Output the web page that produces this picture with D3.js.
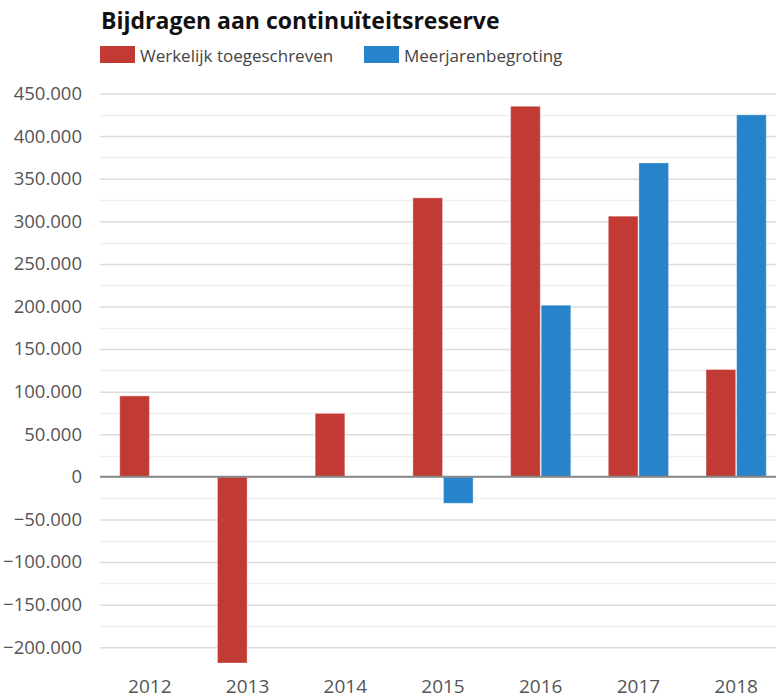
<!DOCTYPE html>
<html>
<head>
<meta charset="utf-8">
<title>Bijdragen aan continuïteitsreserve</title>
<script src="https://d3js.org/d3.v7.min.js"></script>
<style>
  body { margin: 0; background: #fff; font-family: "Open Sans", sans-serif; overflow: hidden; }
</style>
</head>
<body>
<div id="chart"></div>
<script>
// data
var years = ["2012", "2013", "2014", "2015", "2016", "2017", "2018"];
var seriesNames = ["Werkelijk toegeschreven", "Meerjarenbegroting"];
var werkelijk = [95000, -218500, 74500, 327500, 435000, 306000, 126000];
var begroting = [0, 0, 0, -31000, 201500, 368500, 425000];
var yTicks = [-200000, -150000, -100000, -50000, 0, 50000, 100000, 150000, 200000, 250000, 300000, 350000, 400000, 450000];
var colors = ["#c13a33", "#2884ca"];

var width = 776, height = 698;
var plotLeft = 101, plotRight = 785;

var svg = d3.select("#chart").append("svg")
    .attr("width", width)
    .attr("height", height);

// title
svg.append("text")
    .attr("x", 101).attr("y", 28.5)
    .style("font-size", "23px").style("font-weight", "bold")
    .style("fill", "#111")
    .text("Bijdragen aan continuïteitsreserve");

// legend
var legendX = [100, 364];
seriesNames.forEach(function(name, i) {
    svg.append("rect")
        .attr("x", legendX[i]).attr("y", 46)
        .attr("width", 35).attr("height", 17)
        .attr("fill", colors[i]);
    svg.append("text")
        .attr("x", legendX[i] + 40).attr("y", 61.5)
        .style("font-size", "17px").style("fill", "#444")
        .text(name);
});

// scales
var y = d3.scaleLinear().domain([-218500, 450000]).range([663, 93.5]);
var x0 = d3.scaleBand().domain(years).range([plotLeft, plotRight]).paddingInner(0.365).paddingOuter(0.1825);
var x1 = d3.scaleBand().domain(seriesNames).range([0, x0.bandwidth()]).padding(0.03);

// minor grid lines
var minor = d3.range(-175000, 450000, 50000);
svg.append("g").selectAll("line").data(minor).enter().append("line")
    .attr("x1", 100).attr("x2", width)
    .attr("y1", function(d) { return Math.round(y(d)) + 0.5; })
    .attr("y2", function(d) { return Math.round(y(d)) + 0.5; })
    .attr("stroke", "#efefef").attr("stroke-width", 1.5);

// y axis with major grid
var yAxis = svg.append("g")
    .attr("transform", "translate(100,0)")
    .call(d3.axisLeft(y).tickValues(yTicks).tickSize(-(width - 100)).tickPadding(18)
        .tickFormat(function(d) { return d3.format(",")(d).replace(/,/g, "."); }));
yAxis.select(".domain").remove();
yAxis.selectAll(".tick line").attr("stroke", "#dcdcdc").attr("stroke-width", 1.5);
yAxis.selectAll(".tick text")
    .style("font-size", "18.5px").style("fill", "#555")
    .style("font-family", "'Open Sans', sans-serif");

// bars
var groups = svg.append("g").selectAll("g").data(years).enter().append("g")
    .attr("transform", function(d) { return "translate(" + x0(d) + ",0)"; });

groups.selectAll("rect")
    .data(function(d, i) { return [
        { name: seriesNames[0], value: werkelijk[i] },
        { name: seriesNames[1], value: begroting[i] }
    ]; })
    .enter().append("rect")
    .attr("x", function(d) { return x1(d.name); })
    .attr("width", x1.bandwidth())
    .attr("y", function(d) { return y(Math.max(0, d.value)); })
    .attr("height", function(d) { return Math.abs(y(d.value) - y(0)); })
    .attr("fill", function(d, i) { return colors[i]; })
    .attr("stroke", "rgba(255,255,255,0.35)")
    .attr("stroke-width", 1);

// zero line
svg.append("line")
    .attr("x1", 100).attr("x2", width)
    .attr("y1", y(0)).attr("y2", y(0))
    .attr("stroke", "#888").attr("stroke-width", 2);

// x axis labels
var xAxis = svg.append("g")
    .attr("transform", "translate(0,672)")
    .call(d3.axisBottom(x0).tickSize(0).tickPadding(0));
xAxis.select(".domain").remove();
xAxis.selectAll(".tick text")
    .attr("dy", "0")
    .attr("y", 20.5)
    .style("font-size", "19px").style("fill", "#555")
    .style("font-family", "'Open Sans', sans-serif");
</script>
</body>
</html>
